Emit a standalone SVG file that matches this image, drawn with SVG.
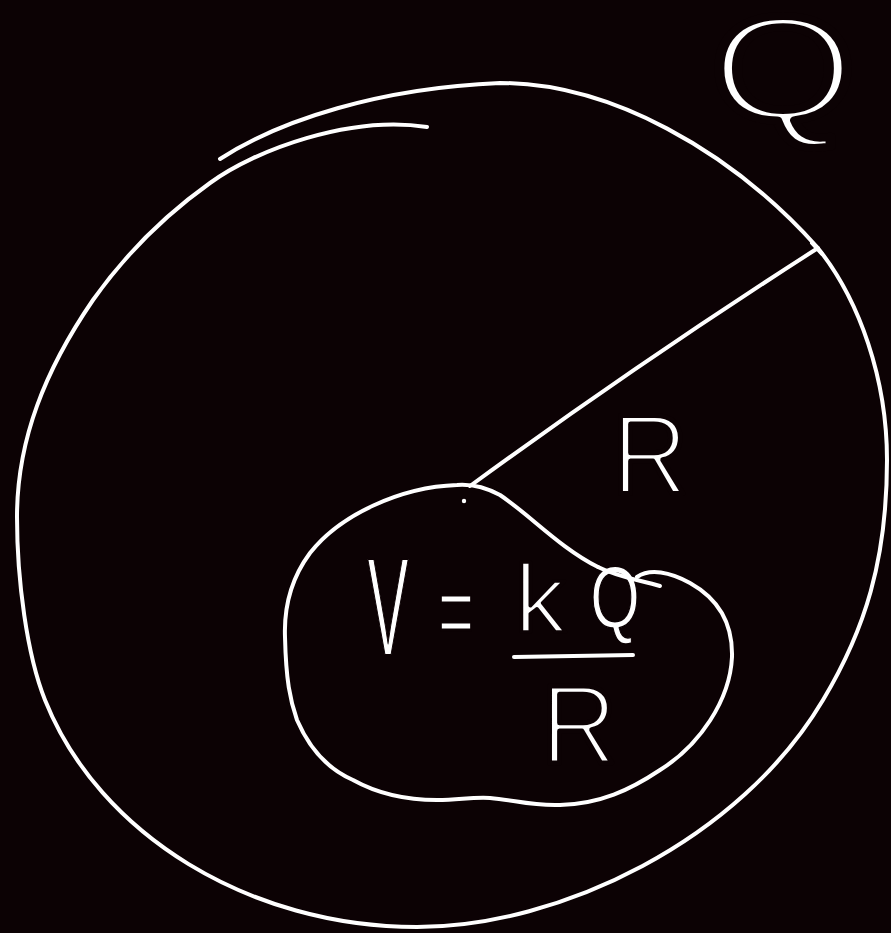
<svg xmlns="http://www.w3.org/2000/svg" width="891" height="933" viewBox="0 0 891 933">
<style>
.ink{fill:none;stroke:#ffffff;stroke-width:4;stroke-linecap:round;stroke-linejoin:round}
.t{fill:#ffffff;stroke:#0c0204;stroke-linejoin:round;font-family:"Liberation Sans","DejaVu Sans",sans-serif;text-anchor:middle}
</style>
<rect width="891" height="933" fill="#0c0204"/>
<g id="label-Q">
<text class="t" x="783" y="120" font-size="148" textLength="145" lengthAdjust="spacingAndGlyphs" stroke-width="8">Q</text>
</g>
<g id="label-R">
<text class="t" x="650" y="493" font-size="113" textLength="76" lengthAdjust="spacingAndGlyphs" stroke-width="5">R</text>
</g>
<g id="formula">
<text class="t" x="388" y="655" font-size="140" textLength="41" lengthAdjust="spacingAndGlyphs" stroke-width="2">V</text>
<text class="t" x="456" y="648" font-size="110" textLength="36" lengthAdjust="spacingAndGlyphs" stroke-width="3">=</text>
<text class="t" x="540" y="632" font-size="96" textLength="51" lengthAdjust="spacingAndGlyphs" stroke-width="3.5">k</text>
<text class="t" x="615" y="628" font-size="88" textLength="50" lengthAdjust="spacingAndGlyphs" stroke-width="1.5">Q</text>
<text class="t" x="579" y="763" font-size="112" textLength="76" lengthAdjust="spacingAndGlyphs" stroke-width="5">R</text>
<path class="ink" d="M514,657 L633,655"/>
</g>
<g id="sphere">
<path class="ink" d="M220,159 C280,120 380,88 500,83 C610,83 730,150 817,247 C860,300 887,380 887,460 C887,560 865,630 823,700 C740,840 560,927 417,927 C250,927 99,835 45,700 C27,655 17,580 17,517 C17,440 45,370 93,300 C125,255 165,215 210,183 C255,150 350,115 427,127"/>
</g>
<g id="blob">
<path class="ink" d="M598,567 C560,548 530,515 500,495 C485,487 470,484 457,485 C400,487 340,515 310,553 C290,580 284,610 285,637 C286,680 290,700 297,720 C310,750 330,770 353,780 C380,795 410,800 437,800 C460,800 470,797 490,798 C515,800 530,806 560,805 C600,804 630,790 660,770 C700,745 730,700 732,657 C733,620 715,597 690,583 C670,572 650,568 637,577"/>
<path class="ink" d="M598,567 C620,578 640,580 660,586"/>
</g>
<g id="connectors">
<path class="ink" d="M470,486 Q640,362 818,248"/>
<path class="ink" d="M812,243 L822,254"/>
<circle cx="464" cy="501" r="2.2" fill="#ffffff"/>
</g>
</svg>
